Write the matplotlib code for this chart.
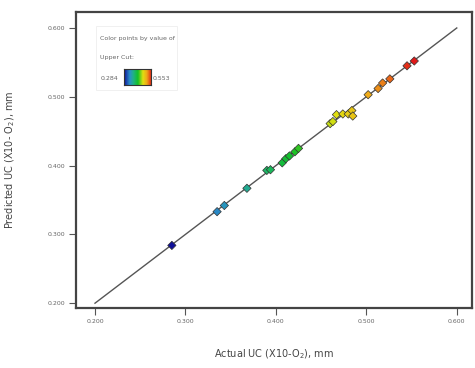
import matplotlib.pyplot as plt
import numpy as np
from matplotlib.colors import LinearSegmentedColormap
from matplotlib.patches import Rectangle

actual = [0.285, 0.335, 0.343, 0.368, 0.390, 0.394, 0.407, 0.411, 0.415, 0.421,
          0.425, 0.460, 0.463, 0.467, 0.474, 0.480, 0.484, 0.485, 0.502, 0.513,
          0.518, 0.526, 0.545, 0.553]
predicted = [0.284, 0.333, 0.342, 0.367, 0.393, 0.394, 0.404, 0.410, 0.414, 0.420,
             0.425, 0.461, 0.464, 0.474, 0.475, 0.475, 0.480, 0.472, 0.503, 0.512,
             0.520, 0.526, 0.545, 0.552]
ticks = [0.2, 0.3, 0.4, 0.5, 0.6]
vmin, vmax = 0.284, 0.553

cmap = LinearSegmentedColormap.from_list("de", [
    (0.0, "#101098"), (0.2, "#2a90c8"), (0.33, "#20b088"), (0.5, "#12c025"),
    (0.68, "#e0e010"), (0.82, "#f0a818"), (1.0, "#e01818")])

fig = plt.figure(figsize=(4.75, 3.68), dpi=100)
ax = fig.add_axes([0.160, 0.163, 0.834, 0.804])

ax.plot([0.2, 0.6], [0.2, 0.6], color="#555555", lw=1.0, zorder=1)
ax.scatter(actual, predicted, c=actual, cmap=cmap, vmin=vmin, vmax=vmax,
           marker="D", s=18, edgecolors="#333333", linewidths=0.5, zorder=2)

ax.set_xlim(0.179, 0.617)
ax.set_ylim(0.193, 0.623)
ax.set_xticks(ticks)
ax.set_yticks(ticks)
ax.set_xticklabels([f"{t:.3f}" for t in ticks])
ax.set_yticklabels([f"{t:.3f}" for t in ticks])
ax.tick_params(labelsize=4.5, labelcolor="#666666", length=5, width=0.8,
               color="#555555", direction="out", pad=3)
for s in ax.spines.values():
    s.set_linewidth(1.6)
    s.set_color("#444444")

ax.set_xlabel("Actual UC (X10-O$_2$), mm", fontsize=7, color="#444444", labelpad=17)
ax.set_ylabel("Predicted UC (X10- O$_2$), mm", fontsize=7, color="#444444", labelpad=22)

# legend for colour scale
fig.text(0.211, 0.892, "Color points by value of", fontsize=4.5, color="#666666")
fig.text(0.211, 0.840, "Upper Cut:", fontsize=4.5, color="#666666")
fig.text(0.211, 0.783, "0.284", fontsize=4.5, color="#666666")
fig.text(0.322, 0.783, "0.553", fontsize=4.5, color="#666666")
cax = fig.add_axes([0.260, 0.770, 0.057, 0.042])
cax.imshow(np.linspace(0, 1, 100)[None, :], aspect="auto", cmap=cmap)
cax.set_xticks([])
cax.set_yticks([])
for s in cax.spines.values():
    s.set_linewidth(0.8)
    s.set_color("#333333")
fig.patches.append(Rectangle((0.203, 0.755), 0.17, 0.175, transform=fig.transFigure,
                             fill=False, edgecolor="#eeeeee", lw=0.6))

fig.savefig("out.png", dpi=100)
